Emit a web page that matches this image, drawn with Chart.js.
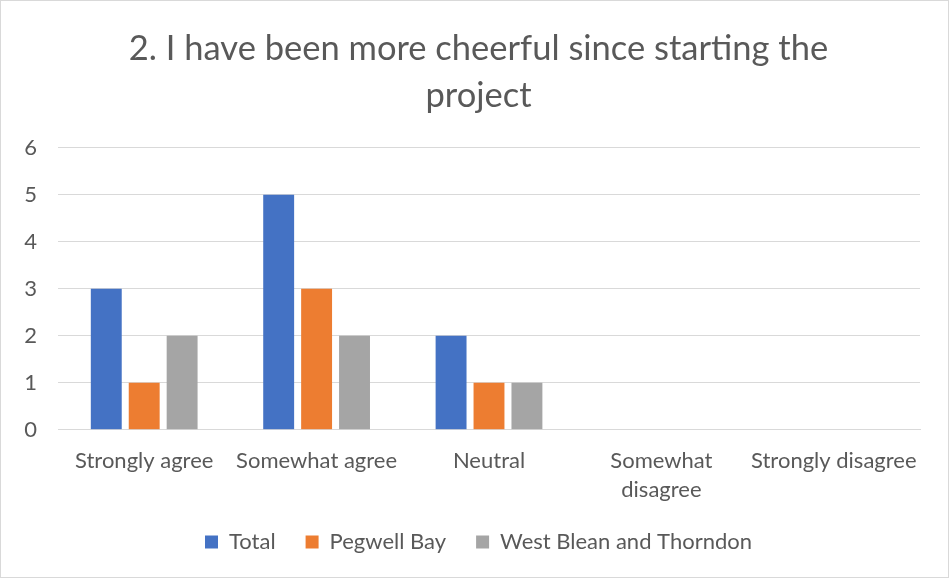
<!DOCTYPE html>
<html><head><meta charset="utf-8">
<script src="https://cdn.jsdelivr.net/npm/chart.js@4"></script>
<style>
html,body{margin:0;padding:0;background:#fff;}
#wrap{position:absolute;left:0;top:0;width:947px;height:576px;border:1px solid #d9d9d9;}
</style></head><body>
<div id="wrap"><canvas id="c" width="947" height="576"></canvas></div>
<script>
const categories = ['Strongly agree','Somewhat agree','Neutral',['Somewhat','disagree'],'Strongly disagree'];
const totalValues = [3,5,2,0,0];
const pegwellValues = [1,3,1,0,0];
const westBleanValues = [2,2,1,0,0];
const seriesNames = ['Total','Pegwell Bay','West Blean and Thorndon'];
const yTicks = [0,1,2,3,4,5,6];
const titleLines = ['2. I have been more cheerful since starting the','project'];

const FONT = "Lato, 'Open Sans', sans-serif";
const GREY = '#595959';
const shiftBlocks = {id:'shiftBlocks',afterLayout(chart){
  const t=chart.titleBlock;if(t){t.left+=13;t.right+=13;}
  const l=chart.legend;if(l){l.left+=13;l.right+=13;}
}};
new Chart(document.getElementById('c'), {
  type:'bar',
  data:{labels:categories,datasets:[
    {label:seriesNames[0],data:totalValues,backgroundColor:'#4472C4'},
    {label:seriesNames[1],data:pegwellValues,backgroundColor:'#ED7D31'},
    {label:seriesNames[2],data:westBleanValues,backgroundColor:'#A5A5A5'}
  ]},
  plugins:[shiftBlocks],
  options:{
    responsive:false,animation:false,
    categoryPercentage:0.66,barPercentage:0.815,
    layout:{padding:{left:10,right:28,top:12,bottom:14}},
    plugins:{
      title:{display:true,text:titleLines,color:GREY,font:{family:FONT,size:34.5,weight:'normal',lineHeight:1.36},padding:{top:12,bottom:29}},
      legend:{position:'bottom',labels:{color:GREY,font:{family:FONT,size:22},boxWidth:13,boxHeight:13,padding:30}},
      tooltip:{enabled:false}
    },
    scales:{
      x:{grid:{display:false},border:{color:'#d9d9d9'},afterFit:a=>{a.height-=12;},ticks:{color:GREY,font:{family:FONT,size:22,lineHeight:1.3},maxRotation:0,autoSkip:false,padding:9}},
      y:{min:0,max:6,afterBuildTicks:a=>{a.ticks=yTicks.map(v=>({value:v}));},afterFit:a=>{a.width=47;},grid:{color:'#d9d9d9',drawTicks:false},border:{display:false},ticks:{color:GREY,font:{family:FONT,size:22},padding:21}}
    }
  }
});
</script></body></html>
